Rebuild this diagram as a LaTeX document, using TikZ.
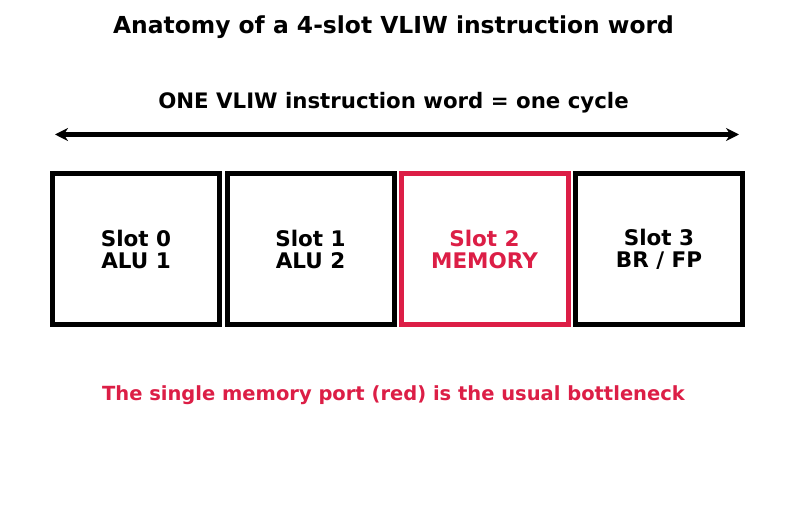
\documentclass[tikz,border=0pt]{standalone}
\usepackage{fontspec}
\setmainfont{DejaVu Sans}
\usetikzlibrary{arrows.meta,positioning}
\definecolor{memcolor}{RGB}{220,30,70}
\tikzset{slotbox/.style={draw,line width=5pt,minimum width=167pt,minimum height=151pt,
    inner sep=0pt,align=center,font=\bfseries\fontsize{21.5}{22}\selectfont}}
\begin{document}
\begin{tikzpicture}[x=1pt,y=1pt]
    \useasboundingbox (0,0) rectangle (787,-510);
    \node[font=\bfseries\fontsize{23.4}{26}\selectfont] (title) at (393.5,-27) {Anatomy of a 4-slot VLIW instruction word};
    \node[font=\bfseries\fontsize{21.3}{24}\selectfont] (span) at (393.5,-103) {ONE VLIW instruction word = one cycle};
    \coordinate (left) at (55,-134.5);
    \coordinate (right) at (739,-134.5);
    \draw[{Stealth[length=13pt,width=13pt]}-{Stealth[length=13pt,width=13pt]},line width=5.5pt] (left) -- (right);
    \foreach \i/\x/\txt in {0/136/{Slot 0\\ALU 1},1/310.5/{Slot 1\\ALU 2},3/659/{Slot 3\\BR / FP}}
      \node[slotbox] (slot\i) at (\x,-249) {\txt};
    \node[slotbox,draw=memcolor,text=memcolor] (slot2) at (484.5,-249) {Slot 2\\MEMORY};
    \node[font=\bfseries\fontsize{19.5}{22}\selectfont,text=memcolor] (note) at (393.5,-395) {The single memory port (red) is the usual bottleneck};
  \end{tikzpicture}
\end{document}
